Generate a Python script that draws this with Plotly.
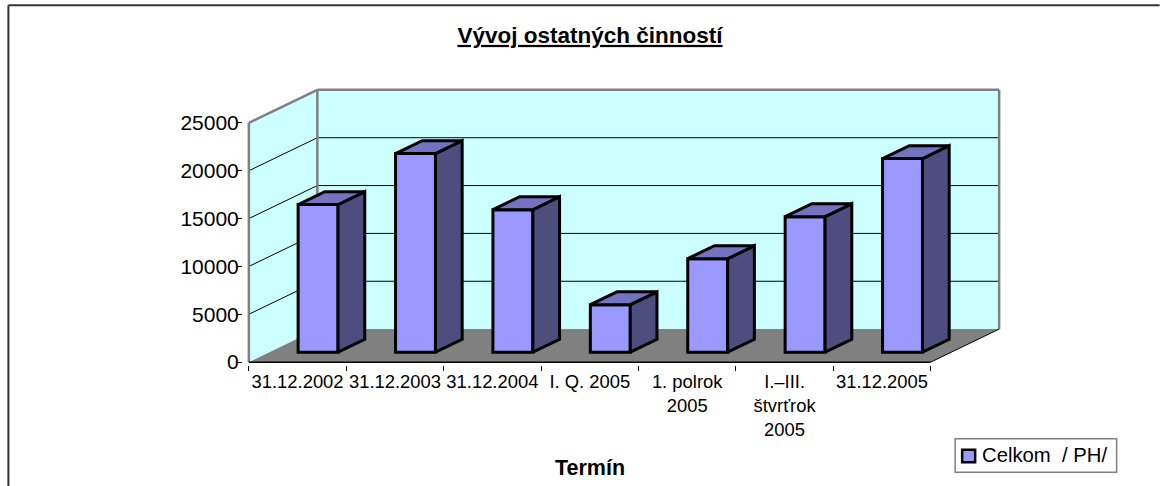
import plotly.graph_objects as go

title = "Vývoj ostatných činností"
x_title = "Termín"
series_name = "Celkom\u00a0\u00a0/ PH/"
categories = ["31.12.2002", "31.12.2003", "31.12.2004", "I. Q. 2005",
              "1. polrok<br>2005", "I.–III.<br>štvrťrok<br>2005", "31.12.2005"]
values = [15430, 20760, 14900, 4970, 9780, 14170, 20240]
y_ticks = [0, 5000, 10000, 15000, 20000, 25000]

FONT = "Liberation Sans, Arial, sans-serif"
W, H = 1160, 486
PX_PER_CAT = 97.43
PX_PER_VAL = 239 / 25000
X0_PX, Y0_PX = 249, 362
DEPTH_X = 68.5 / PX_PER_CAT      # oblique depth offset, category units
DEPTH_Y = 33 / PX_PER_VAL        # oblique depth offset, value units
BAR_W = 0.41
D_FRONT, D_BACK = 0.30, 0.69     # bar extent in the depth direction
n = len(categories)
YMAX = y_ticks[-1]

x_rng = [-0.06, n + DEPTH_X + 0.06]
y_rng = [-300, YMAX + DEPTH_Y + 300]
m_l = X0_PX + x_rng[0] * PX_PER_CAT
m_r = W - (X0_PX + x_rng[1] * PX_PER_CAT)
m_b = H - (Y0_PX - y_rng[0] * PX_PER_VAL)
m_t = Y0_PX - y_rng[1] * PX_PER_VAL
plot_w, plot_h = W - m_l - m_r, H - m_t - m_b


def px(xp):
    return (xp - m_l) / plot_w


def py(yp):
    return 1 - (yp - m_t) / plot_h


def poly(xs, ys, fill, line=None, width=0, layer="below"):
    path = "M" + "L".join(f"{a},{b}" for a, b in zip(xs, ys)) + "Z"
    return dict(type="path", path=path, xref="x", yref="y", fillcolor=fill, layer=layer,
                line=dict(color=line or fill, width=width))


def seg(x0, y0, x1, y1, color, width):
    return dict(type="line", x0=x0, y0=y0, x1=x1, y1=y1, xref="x", yref="y", layer="below",
                line=dict(color=color, width=width))


def paper_rect(x0, y0, x1, y1, fill, line, width):
    return dict(type="rect", xref="paper", yref="paper", x0=px(x0), x1=px(x1), y0=py(y0), y1=py(y1),
                fillcolor=fill, line=dict(color=line, width=width))


WALL, FLOOR, EDGE = "#CCFFFF", "#808080", "#808080"
shapes = [
    poly([0, DEPTH_X, DEPTH_X, 0], [0, DEPTH_Y, YMAX + DEPTH_Y, YMAX], WALL),
    poly([DEPTH_X, n + DEPTH_X, n + DEPTH_X, DEPTH_X], [DEPTH_Y, DEPTH_Y, YMAX + DEPTH_Y, YMAX + DEPTH_Y], WALL),
    poly([0, n, n + DEPTH_X, DEPTH_X], [0, 0, DEPTH_Y, DEPTH_Y], FLOOR),
]
for t in y_ticks[1:-1]:
    shapes.append(seg(0, t, DEPTH_X, t + DEPTH_Y, "#000000", 1))
    shapes.append(seg(DEPTH_X, t + DEPTH_Y, n + DEPTH_X, t + DEPTH_Y, "#000000", 1))
shapes += [
    seg(0, 0, 0, YMAX, EDGE, 2.5),
    seg(0, YMAX, DEPTH_X, YMAX + DEPTH_Y, EDGE, 2.5),
    seg(DEPTH_X, DEPTH_Y, DEPTH_X, YMAX + DEPTH_Y, EDGE, 2.5),
    seg(DEPTH_X, YMAX + DEPTH_Y, n + DEPTH_X, YMAX + DEPTH_Y, EDGE, 2.5),
    seg(n + DEPTH_X, DEPTH_Y, n + DEPTH_X, YMAX + DEPTH_Y, EDGE, 2.5),
    seg(n, 0, n + DEPTH_X, DEPTH_Y, "#000000", 1),
    seg(0, 0, n, 0, "#000000", 1.5),
]
# outer chart frame: top and left edges only are visible
shapes += [
    dict(type="line", xref="paper", yref="paper", x0=px(8.5), x1=px(1160), y0=py(5.5), y1=py(5.5),
         line=dict(color="#333333", width=2)),
    dict(type="line", xref="paper", yref="paper", x0=px(8.5), x1=px(8.5), y0=py(5.5), y1=py(486),
         line=dict(color="#333333", width=2)),
]
# legend box
shapes += [
    paper_rect(955.5, 438.5, 1117, 472, "#FFFFFF", "#808080", 1.5),
    paper_rect(962.5, 449.5, 975.5, 462, "#9999FF", "#000000", 2.5),
]

base_y = D_FRONT * DEPTH_Y
centers = [i + 0.5 + D_FRONT * DEPTH_X for i in range(n)]
dx = (D_BACK - D_FRONT) * DEPTH_X
dy = (D_BACK - D_FRONT) * DEPTH_Y

side_x, side_y, top_x, top_y = [], [], [], []
for c, v in zip(centers, values):
    l, r, t = c - BAR_W / 2, c + BAR_W / 2, base_y + v
    side_x += [r, r + dx, r + dx, r, r, None]
    side_y += [base_y, base_y + dy, t + dy, t, base_y, None]
    top_x += [l, r, r + dx, l + dx, l, None]
    top_y += [t, t, t + dy, t + dy, t, None]

BAR_LINE = dict(color="#000000", width=3)
fig = go.Figure()
fig.add_trace(go.Bar(x=centers, y=values, base=base_y, width=BAR_W, name=series_name,
                     marker=dict(color="#9999FF", line=BAR_LINE), hoverinfo="skip", showlegend=False))
fig.add_trace(go.Scatter(x=side_x, y=side_y, mode="lines", fill="toself", fillcolor="#4D4D80",
                         line=BAR_LINE, showlegend=False, hoverinfo="skip"))
fig.add_trace(go.Scatter(x=top_x, y=top_y, mode="lines", fill="toself", fillcolor="#7373BF",
                         line=BAR_LINE, showlegend=False, hoverinfo="skip"))

fig.update_layout(
    width=W, height=H, autosize=False,
    margin=dict(l=m_l, r=m_r, t=m_t, b=m_b, pad=0),
    paper_bgcolor="#FFFFFF", plot_bgcolor="rgba(0,0,0,0)",
    font=dict(family=FONT, size=18, color="#000000"),
    title=dict(text=f"<b><u>{title}</u></b>", x=590 / W, xanchor="center", xref="container",
               y=1 - 35 / H, yanchor="middle", yref="container", font=dict(size=22.5)),
    xaxis=dict(range=x_rng, tickmode="array", tickvals=[i + 0.5 for i in range(n)], ticktext=categories,
               ticks="", showgrid=False, showline=False, zeroline=False, fixedrange=True, tickangle=0,
               tickfont=dict(size=18.4), automargin=False, ticklabelstandoff=4,
               minor=dict(tickmode="array", tickvals=list(range(n + 1)), ticks="outside", ticklen=5,
                          tickwidth=1, tickcolor="#000000", showgrid=False)),
    yaxis=dict(range=y_rng, tickmode="array", tickvals=y_ticks, ticktext=[str(t) for t in y_ticks],
               ticks="outside", ticklen=5, tickwidth=1, tickcolor="#000000", showgrid=False,
               showline=False, zeroline=False, fixedrange=True, tickfont=dict(size=21),
               automargin=False, ticklabelstandoff=-6),
    shapes=shapes,
    annotations=[
        dict(text=f"<b>{x_title}</b>", xref="paper", yref="paper", x=px(590), y=py(468),
             xanchor="center", yanchor="middle", showarrow=False, font=dict(size=21.5)),
        dict(text=series_name, xref="paper", yref="paper", x=px(980.5), y=py(455),
             xanchor="left", yanchor="middle", showarrow=False, font=dict(size=20.3)),
    ],
    showlegend=False,
)
fig.write_html("out.html", config={"displayModeBar": False},
               post_script="document.body.style.margin='0';document.body.style.overflow='hidden';")
